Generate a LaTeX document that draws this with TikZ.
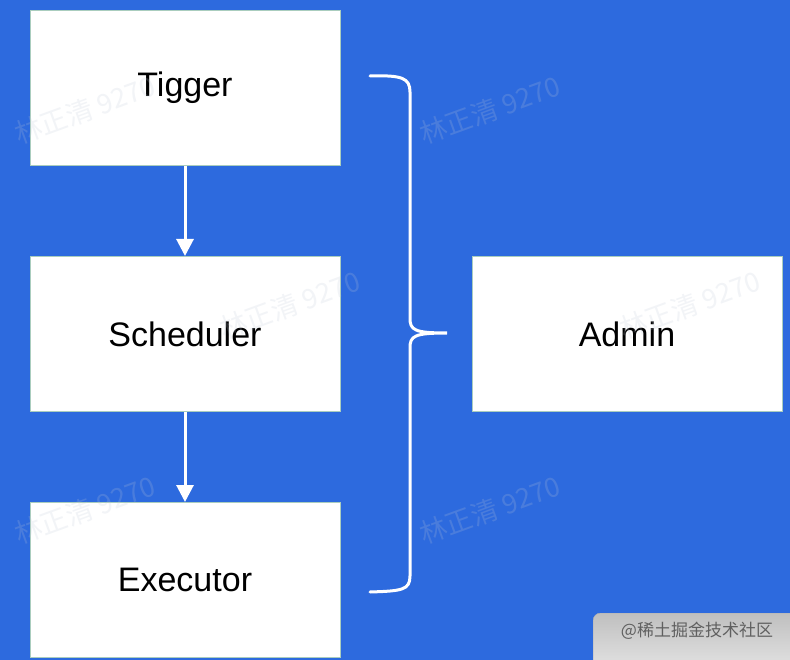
\documentclass[tikz,border=0pt]{standalone}
\usepackage{fontspec}
\setmainfont{Liberation Sans}
\newfontfamily\cjk{Noto Sans CJK SC}
\usepackage{tikz}
\usetikzlibrary{arrows.meta, positioning}

\definecolor{bgblue}{RGB}{45,106,222}
\definecolor{edgegreen}{RGB}{170,205,190}
\definecolor{wmgray}{RGB}{190,200,215}

\begin{document}
\begin{tikzpicture}[x=1pt, y=-1pt,
    box/.style={draw=edgegreen, line width=1pt, fill=white, minimum width=310pt,
      minimum height=155pt, inner sep=0pt, font=\fontsize{34}{40}\selectfont},
    flow/.style={draw=white, line width=3pt, -{Triangle[width=17pt,length=17pt]}},
    wmark/.style={text=wmgray, text opacity=0.2, rotate=20, font=\cjk\fontsize{27}{30}\selectfont}]
    \fill[bgblue] (0,0) rectangle (790,660);
    \useasboundingbox (0,0) rectangle (790,660);
    \node[box] (tigger) at (185,88) {Tigger};
    \node[box] (scheduler) at (185,334) {Scheduler};
    \node[box] (executor) at (185,580) {Executor};
    \node[box] (admin) at (627,334) {Admin};
    \draw[flow] (tigger) -- (scheduler);
    \draw[flow] (scheduler) -- (executor);
    % brace
    \coordinate (btop) at (370,76);
    \coordinate (btip) at (447,333);
    \coordinate (bbot) at (370,592);
    \draw[white, line width=3pt, line cap=round]
    (btop) .. controls (402,75) and (410,78) .. (410,92) -- (410,318)
    .. controls (410,330) and (414,333) .. (btip)
    .. controls (414,333) and (410,336) .. (410,348) -- (410,576)
    .. controls (410,590) and (402,591) .. (bbot);
    \foreach \x/\y [count=\i] in {85/110, 490/110, 290/305, 690/305, 85/510, 490/510}{
    \node[wmark] (wm\i) at (\x,\y) {林正清 9270}; }
    \node[anchor=north west, minimum width=215pt, minimum height=60pt, rounded corners=7pt,
      top color=gray!50, bottom color=gray!20, draw=gray!60] (badge) at (593,613) {};
    \node[text=gray!75!black, font=\cjk\fontsize{17}{20}\selectfont] (badgetext) at (697,631) {@稀土掘金技术社区};
\end{tikzpicture}
\end{document}
